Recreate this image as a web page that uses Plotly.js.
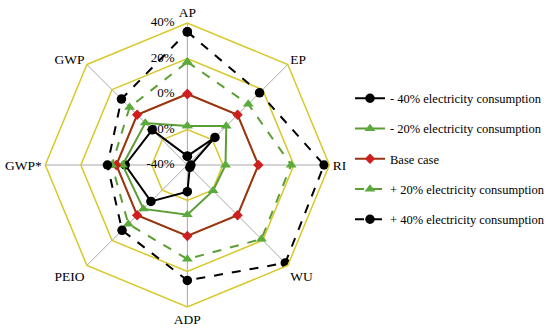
<!DOCTYPE html>
<html>
<head>
<meta charset="utf-8">
<script src="https://cdn.plot.ly/plotly-3.0.1.min.js"></script>
<style>html,body{margin:0;padding:0;background:#fff;}#chart{width:550px;height:328px;}</style>
</head>
<body>
<div id="chart"></div>
<script>
// categories (clockwise from top)
const categories = ['AP', 'EP', 'RI', 'WU', 'ADP', 'PEIO', 'GWP*', 'GWP'];
// series values (% change)
const minus40 = [-35, -18, -38, -38, -25, -11, -5, -12];
const minus20 = [-18, -9, -18.5, -19.5, -12, -5, -3.5, -6.5];
const baseCase = [0, 0, 0, 0, 0, 0, 0, 0];
const plus20 = [18, 8.5, 18.5, 19, 13, 7, 2.5, 6];
const plus40 = [35, 17.5, 37, 38, 25, 12, 5, 12.5];
// series names
const seriesNames = ['- 40% electricity consumption', '- 20% electricity consumption', 'Base case',
  '+ 20% electricity consumption', '+ 40% electricity consumption'];
// radial tick labels
const radialTickVals = [-40, -20, 0, 20, 40];
const radialTickText = ['-40%', '-20%', '0%', '20%', '40%'];

const FONT = 'Liberation Serif, Times New Roman, serif';
const close = a => a.concat([a[0]]);
const theta = close(categories);
const DOMAIN = {x: [0.0825, 0.6], y: [0.0631, 0.9308]};
const RANGE = [-40, 40];

const styles = [
  {line: {color: '#000000', width: 2, dash: 'solid'}, marker: {symbol: 'circle', size: 9.5, color: '#000000'}},
  {line: {color: '#5c9e36', width: 2, dash: 'solid'}, marker: {symbol: 'triangle-up', size: 9.5, color: '#5aab3c'}},
  {line: {color: '#9a3414', width: 2, dash: 'solid'}, marker: {symbol: 'diamond', size: 8, color: '#cf1e1e'}},
  {line: {color: '#5c9e36', width: 2, dash: 'dash'}, marker: {symbol: 'triangle-up', size: 9.5, color: '#5aab3c'}},
  {line: {color: '#000000', width: 2, dash: 'dash'}, marker: {symbol: 'circle', size: 9.5, color: '#000000'}}
];
const allSeries = [minus40, minus20, baseCase, plus20, plus40];

const traces = allSeries.map((vals, i) => ({
  type: 'scatterpolar',
  subplot: 'polar',
  mode: 'lines+markers',
  r: close(vals),
  theta: theta,
  name: seriesNames[i],
  legendgroup: 'g' + i,
  cliponaxis: true,
  line: styles[i].line,
  marker: styles[i].marker
}));

// radial tick labels: text placed on the vertical (AP) axis through an
// overlaid, invisible polar subplot with the same domain and radial range
traces.push({
  type: 'scatterpolar',
  subplot: 'polar2',
  mode: 'markers+text',
  r: radialTickVals,
  theta: radialTickVals.map(() => 0),
  text: radialTickText,
  textposition: 'middle left',
  textfont: {family: FONT, size: 13, color: '#000'},
  marker: {size: 18.7, opacity: 0},
  cliponaxis: false,
  showlegend: false,
  hoverinfo: 'skip'
});

const layout = {
  width: 550,
  height: 328,
  margin: {l: 0, r: 0, t: 0, b: 0},
  paper_bgcolor: '#ffffff',
  font: {family: FONT, size: 13, color: '#000'},
  showlegend: true,
  legend: {
    x: 0.637, y: 0.745, xanchor: 'left', yanchor: 'top',
    font: {family: FONT, size: 12.5, color: '#000'},
    tracegroupgap: 11,
    bgcolor: 'rgba(0,0,0,0)'
  },
  polar: {
    domain: DOMAIN,
    bgcolor: '#ffffff',
    gridshape: 'linear',
    radialaxis: {
      range: RANGE,
      tickvals: radialTickVals,
      showticklabels: false,
      angle: 90,
      showline: false,
      ticks: '',
      gridcolor: '#d8c82a',
      gridwidth: 1.5
    },
    angularaxis: {
      rotation: 90,
      direction: 'clockwise',
      linecolor: '#d8c82a',
      linewidth: 1.5,
      showline: true,
      gridcolor: '#a8a8a8',
      gridwidth: 1,
      ticks: '',
      tickfont: {family: FONT, size: 13.5, color: '#000'}
    }
  },
  polar2: {
    domain: DOMAIN,
    bgcolor: 'rgba(0,0,0,0)',
    gridshape: 'circular',
    radialaxis: {range: RANGE, visible: false, showgrid: false, angle: 90},
    angularaxis: {type: 'linear', rotation: 90, direction: 'clockwise', visible: false, showgrid: false}
  }
};

Plotly.newPlot('chart', traces, layout, {displayModeBar: false, staticPlot: true}).then(() => {
  // undo Plotly's out-of-range hiding if it wrongly hid the label texts
  document.querySelectorAll('#chart .polar2 .textpoint, #chart .polar2 .textpoint text').forEach(el => {
    if (el.getAttribute('display') === 'none') el.removeAttribute('display');
  });
});
</script>
</body>
</html>
